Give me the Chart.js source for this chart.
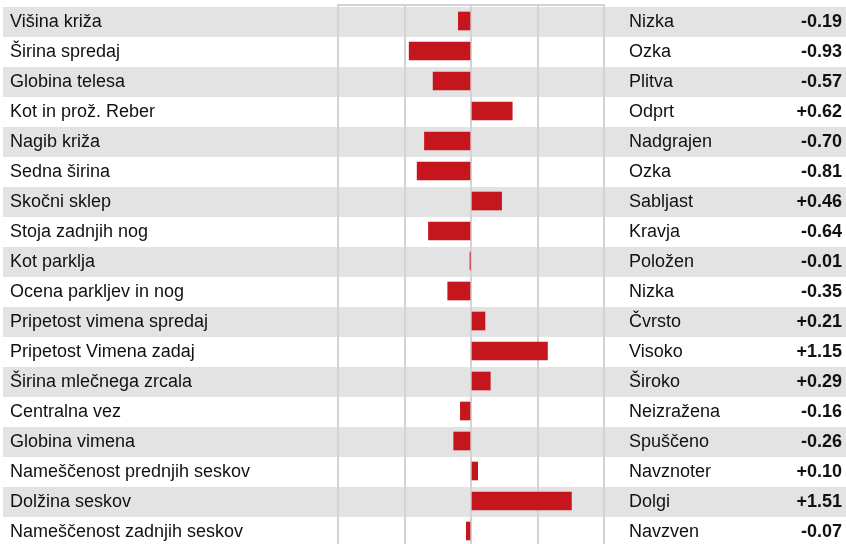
<!DOCTYPE html>
<html>
<head>
<meta charset="utf-8">
<script src="https://cdn.jsdelivr.net/npm/chart.js@4/dist/chart.umd.min.js"></script>
<style>
html,body{margin:0;padding:0;background:#fff;overflow:hidden;}
canvas{display:block;}
</style>
</head>
<body>
<canvas id="c" width="846" height="546"></canvas>
<script>
const traits = ["Višina križa","Širina spredaj","Globina telesa","Kot in prož. Reber","Nagib križa","Sedna širina","Skočni sklep","Stoja zadnjih nog","Kot parklja","Ocena parkljev in nog","Pripetost vimena spredaj","Pripetost Vimena zadaj","Širina mlečnega zrcala","Centralna vez","Globina vimena","Nameščenost prednjih seskov","Dolžina seskov","Nameščenost zadnjih seskov"];
const extremes = ["Nizka","Ozka","Plitva","Odprt","Nadgrajen","Ozka","Sabljast","Kravja","Položen","Nizka","Čvrsto","Visoko","Široko","Neizražena","Spuščeno","Navznoter","Dolgi","Navzven"];
const values = [-0.19,-0.93,-0.57,0.62,-0.70,-0.81,0.46,-0.64,-0.01,-0.35,0.21,1.15,0.29,-0.16,-0.26,0.10,1.51,-0.07];
const xTicks = [-2,-1,0,1,2];

const FONT = '"Liberation Sans", Arial, Helvetica, sans-serif';
const fmt = v => (v > 0 ? '+' : '') + v.toFixed(2);

const rowsPlugin = {
  id: 'rows',
  beforeDraw(chart) {
    const ctx = chart.ctx, y = chart.scales.y;
    const h = y.getPixelForValue(1) - y.getPixelForValue(0);
    ctx.save();
    traits.forEach((t, i) => {
      if (i % 2 === 0) {
        ctx.fillStyle = '#e3e3e3';
        ctx.fillRect(3, Math.round(y.getPixelForValue(i) - h / 2) + 1, 843, Math.round(h));
      }
    });
    ctx.restore();
  },
  afterDraw(chart) {
    const ctx = chart.ctx, y = chart.scales.y, x = chart.scales.x;
    ctx.save();
    // top border
    ctx.strokeStyle = '#d3d3d3';
    ctx.lineWidth = 2;
    ctx.beginPath();
    ctx.moveTo(x.getPixelForValue(xTicks[0]) - 1, 5);
    ctx.lineTo(x.getPixelForValue(xTicks[xTicks.length - 1]) + 1, 5);
    ctx.stroke();
    ctx.textBaseline = 'middle';
    ctx.fillStyle = '#111';
    traits.forEach((t, i) => {
      const cy = y.getPixelForValue(i) + 1.5;
      ctx.font = '18px ' + FONT;
      ctx.textAlign = 'left';
      ctx.fillText(t, 10, cy);
      ctx.fillText(extremes[i], 629, cy);
      ctx.font = 'bold 18px ' + FONT;
      ctx.textAlign = 'right';
      ctx.fillText(fmt(values[i]), 842, cy);
    });
    ctx.restore();
  }
};

new Chart(document.getElementById('c'), {
  type: 'bar',
  data: {
    labels: traits,
    datasets: [{
      data: values,
      backgroundColor: '#c4161c',
      barThickness: 18,
      borderWidth: 0
    }]
  },
  options: {
    indexAxis: 'y',
    responsive: false,
    animation: false,
    devicePixelRatio: 1,
    layout: { padding: { left: 338, right: 242, top: 6, bottom: 0 } },
    plugins: { legend: { display: false }, tooltip: { enabled: false } },
    scales: {
      x: {
        min: xTicks[0], max: xTicks[xTicks.length - 1],
        afterBuildTicks(s) { s.ticks = xTicks.map(v => ({ value: v })); },
        ticks: { display: false },
        border: { display: false },
        grid: { color: '#d3d3d3', lineWidth: 2, drawTicks: false }
      },
      y: {
        display: false,
        grid: { display: false }
      }
    }
  },
  plugins: [rowsPlugin]
});
</script>
</body>
</html>
